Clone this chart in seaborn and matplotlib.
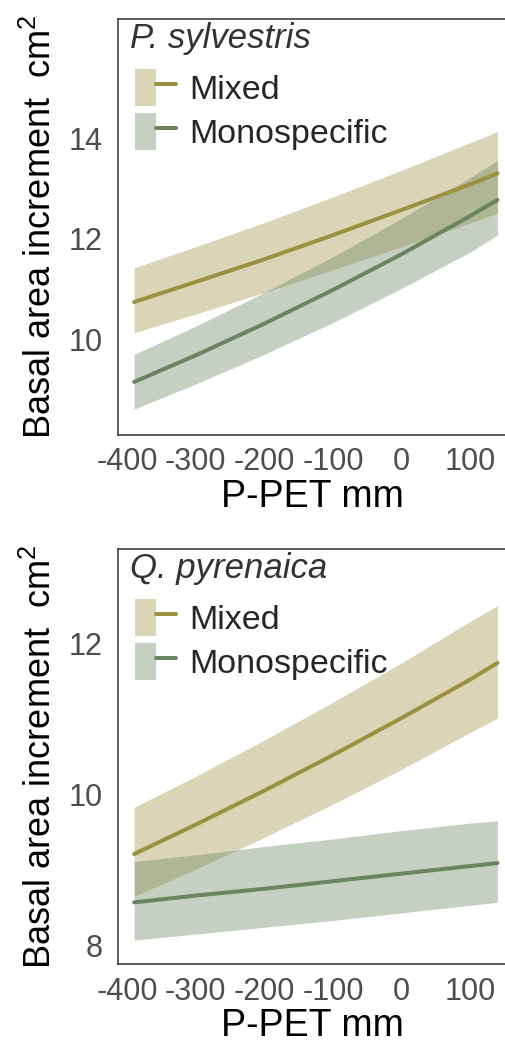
import numpy as np
import pandas as pd
import seaborn as sns
import matplotlib.pyplot as plt
from matplotlib.patches import Patch
from matplotlib.lines import Line2D
from matplotlib.legend_handler import HandlerTuple

# values
ppet = [-390, -300, -200, -100, 0, 100, 140]

# P. sylvestris
ps_mixed = [10.74, 11.14, 11.59, 12.07, 12.57, 13.08, 13.30]
ps_mixed_lo = [10.13, 10.50, 10.93, 11.38, 11.84, 12.31, 12.51]
ps_mixed_hi = [11.42, 11.84, 12.32, 12.83, 13.36, 13.91, 14.13]
ps_mono = [9.15, 9.68, 10.31, 10.98, 11.69, 12.45, 12.77]
ps_mono_lo = [8.61, 9.11, 9.70, 10.33, 11.01, 11.73, 12.07]
ps_mono_hi = [9.70, 10.26, 10.93, 11.64, 12.40, 13.21, 13.56]

# Q. pyrenaica
qp_mixed = [9.21, 9.60, 10.05, 10.52, 11.01, 11.52, 11.74]
qp_mixed_lo = [8.65, 9.01, 9.43, 9.87, 10.33, 10.82, 11.01]
qp_mixed_hi = [9.83, 10.24, 10.72, 11.22, 11.74, 12.29, 12.50]
qp_mono = [8.57, 8.66, 8.75, 8.85, 8.95, 9.05, 9.09]
qp_mono_lo = [8.07, 8.15, 8.24, 8.33, 8.43, 8.53, 8.57]
qp_mono_hi = [9.11, 9.20, 9.31, 9.41, 9.52, 9.62, 9.65]

groups = ['Mixed', 'Monospecific']
colors = {'Mixed': '#9b9141', 'Monospecific': '#6b8560'}

sns.set_style('white')
plt.rcParams['font.family'] = ['Liberation Sans', 'DejaVu Sans']
plt.rcParams['mathtext.fontset'] = 'custom'
plt.rcParams['mathtext.rm'] = 'Liberation Sans'
plt.rcParams['axes.unicode_minus'] = False

fig = plt.figure(figsize=(5.06, 10.48), dpi=100)
ax1 = fig.add_axes([0.2332, 0.5852, 0.7668, 0.3967])
ax2 = fig.add_axes([0.2332, 0.0799, 0.7668, 0.3963])

panels = [
    (ax1, 'P. sylvestris',
     {'Mixed': (ps_mixed, ps_mixed_lo, ps_mixed_hi),
      'Monospecific': (ps_mono, ps_mono_lo, ps_mono_hi)},
     (8.10, 16.37), [10, 12, 14]),
    (ax2, 'Q. pyrenaica',
     {'Mixed': (qp_mixed, qp_mixed_lo, qp_mixed_hi),
      'Monospecific': (qp_mono, qp_mono_lo, qp_mono_hi)},
     (7.75, 13.25), [8, 10, 12]),
]

for ax, title, data, ylim, yticks in panels:
    rows = []
    for g in groups:
        fit, lo, hi = data[g]
        for x, f, l, h in zip(ppet, fit, lo, hi):
            rows.append({'ppet': x, 'fit': f, 'lo': l, 'hi': h, 'stand': g})
    df = pd.DataFrame(rows)

    for g in groups:
        d = df[df['stand'] == g]
        ax.fill_between(d['ppet'], d['lo'], d['hi'], color=colors[g],
                        alpha=0.38, linewidth=0)
    sns.lineplot(data=df, x='ppet', y='fit', hue='stand', palette=colors,
                 linewidth=2.9, ax=ax, legend=False)

    ax.set_xlim(-413.6, 152.5)
    ax.set_ylim(*ylim)
    ax.set_xticks([-400, -300, -200, -100, 0, 100])
    ax.set_yticks(yticks)
    ax.tick_params(axis='both', labelsize=22, colors='#333333', length=6,
                   width=1.1, direction='out')
    ax.tick_params(axis='x', pad=3)
    ax.tick_params(axis='y', pad=5)
    ax.tick_params(axis='both', labelcolor='#4d4d4d')
    for s in ['left', 'bottom', 'top']:
        ax.spines[s].set_color('#333333')
        ax.spines[s].set_linewidth(1.1)
    ax.spines['right'].set_visible(False)

    ax.set_xlabel('P-PET mm', fontsize=27, color='black', labelpad=1)
    ax.set_ylabel('Basal area increment  cm$^2$', fontsize=26, color='black',
                  labelpad=7)
    ax.text(0.03, 0.992, title, transform=ax.transAxes, style='italic',
            fontsize=25, color='#333333', va='top', ha='left')

    handles = [(Patch(facecolor=colors[g], alpha=0.38, linewidth=0),
                Line2D([], [], color=colors[g], linewidth=2.9)) for g in groups]
    ax.legend(handles=handles, labels=groups, loc='upper left',
              bbox_to_anchor=(0.045, 0.88), frameon=False, fontsize=24.5,
              handler_map={tuple: HandlerTuple(ndivide=None, pad=0)},
              handlelength=1.18, handleheight=1.3, handletextpad=0.4,
              labelspacing=0.2, borderpad=0, borderaxespad=0)

fig.savefig('out.png', dpi=100)
